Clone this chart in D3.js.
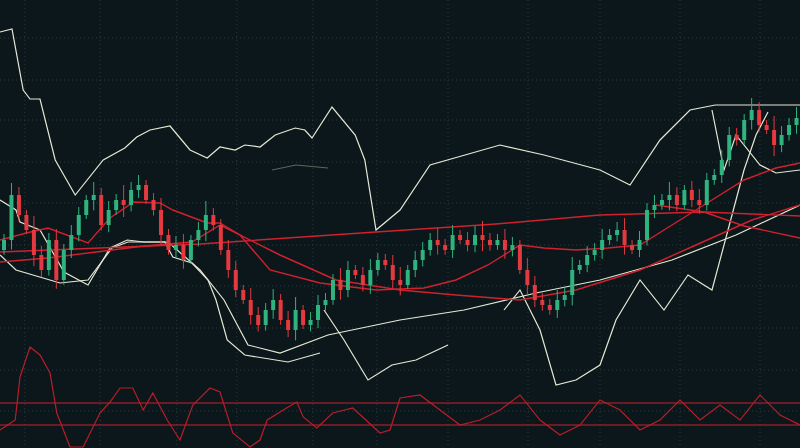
<!DOCTYPE html>
<html>
<head>
<meta charset="utf-8">
<script src="https://cdn.jsdelivr.net/npm/d3@7"></script>
<style>
  html, body { margin: 0; padding: 0; background: #0c171b; }
  svg { display: block; }
</style>
</head>
<body>
<div id="chart"></div>
<script>
const W = 800, H = 448;

// candle closes (opens = previous close)
const closes = [
  208,253,233,218,193,178,208,168,
  198,213,233,248,253,223,238,248,
  243,258,263,248,238,213,198,203,
  188,208,218,233,223,198,178,158,
  148,133,123,138,148,128,118,138,
  123,128,143,148,168,158,178,173,
  163,178,188,183,168,163,178,188,
  198,208,203,198,213,208,203,213,
  208,203,208,198,203,178,163,148,
  143,138,148,153,178,183,193,198,
  208,213,218,203,198,208,238,243,
  248,253,243,258,248,243,268,273,
  288,313,308,328,338,323,318,303,
  313,323,330
];
const wicks = [
  6,12,8,5,14,9,7,11,6,10,8,5,13,7,9,6,15,8,10,5,
  7,12,6,9,11,5,8,14,7,6,10,9,5,12,8,7,11,6,9,13,
  5,8,10,7,6,12,9,5,8,11,7,6,10,13,5,9,8,7,12,6,
  10,5,8,9,14,7,6,11,8,5,12,9,7,6,10,8,13,5,9,7,
  11,6,8,12,5,9,7,10,6,13,8,5,9,11,7,6,10,8,7
];

// bands and extra oscillating lines: [time, price]
const upperBand = [[0,416],[1.5,419],[2.9,358],[3.75,349],[5,349],[6.9,288],[9.4,253],[12.9,288],[15.6,300],[17.1,311],[18.75,318],[21.25,322],[23.75,298],[25.9,290],[27.5,301],[29.4,298],[30.6,303],[32.5,301],[34.4,313],[36.9,320],[38.1,318],[39,310],[41.5,341],[44.4,313],[45.6,288],[47,218],[50,238],[53.75,283],[62.5,303],[68,293],[75,278],[78.75,263],[82.5,308],[86.25,338],[89.4,343],[95,343],[100,343]];
const lowerBand = [[0,193],[2,178],[7.5,165],[11,168],[14,200],[16,206],[21,206],[25,178],[28,148],[31,103],[35,95],[41,113],[50,128],[58,138],[67,155],[75,168],[84,188],[92,213],[100,243]];
const whiteA = [[0,248],[2,238],[2.5,226],[5,218],[8,176],[11,163],[13.75,200],[15.9,208],[18,206],[20.6,206],[21.6,191],[24,185],[26,168],[27,148],[28.4,108],[30.6,93],[36,86],[40,95]];
const whiteB = [[40.5,138],[43,108],[46,68],[49,83],[52,88],[56,103]];
const whiteC = [[63,138],[65,158],[67.5,118],[69.5,63],[72,68],[75,83],[77,128],[80,168],[83,138],[86,173],[89,158],[91,218],[93,278],[94.5,313],[96,336]];
const whiteD = [[89,338],[90.5,278],[92,313],[95,283],[97,275],[100,278]];
const whiteE = [[34,278],[37,283],[41,280]];

const ma1 = [[0,208],[3.3,215],[6,220],[11,205],[13.75,230],[16.7,246],[20,245],[21.6,238],[25.9,225],[27.5,225],[30,213],[33.75,178],[40,165],[47,158],[53,160],[57,168],[61,183],[65,203],[68,200],[72,198],[76,200],[80,203],[83,218],[88,243],[93,268],[97,280],[100,285]];
const ma2 = [[0,196],[25,204],[47,216],[62,224],[75,233],[88,236],[100,232]];
const ma3 = [[27.5,223],[35,193],[42,168],[50,158],[57,153],[65,148],[72,158],[80,178],[87,203],[94,228],[100,243]];
const ma4 = [[0,186],[6,190],[12,196],[18,202],[24,206],[27.5,223]];
const ma5 = [[82,243],[88,236],[93,222],[100,210]];

// oscillator
const osc = [[0,18],[1.9,28],[2.5,71],[3.75,101],[5,93],[6.25,75],[7.1,35],[8.75,1],[10.4,1],[12.5,35],[13.75,46],[15,60],[16.6,60],[17.9,38],[19.1,55],[20.9,28],[22.5,8],[24.1,43],[26.25,60],[27.5,56],[29.1,15],[31.25,1],[32.5,8],[33.4,28],[35.4,38],[37.1,46],[37.9,31],[39.6,20],[41.6,35],[44.1,40],[47.5,15],[48.75,18],[50,50],[52.5,53],[55,38],[57.5,23],[60,28],[62.5,38],[65,53],[67.5,28],[70,13],[72.5,23],[75,48],[77.5,38],[80,18],[82.5,28],[85,48],[87.5,28],[90,43],[92.5,28],[95,53],[97.5,33],[100,23]];
const oscLevels = [45, 23];

const gridX = [3.1, 12.5, 22.1, 29.6, 39.1, 47.1, 56, 66, 75, 85, 95];
const gridY = [410, 368, 328, 286, 245, 203, 162, 120, 78, 37];

const svg = d3.select('#chart').append('svg')
  .attr('width', W).attr('height', H);

svg.append('rect').attr('width', W).attr('height', H).attr('fill', '#0c171b');

const x = d3.scaleLinear().domain([0, 100]).range([0, W]);
const y = d3.scaleLinear().domain([0, 448]).range([H, 0]);
const yo = d3.scaleLinear().domain([0, 108]).range([H, 340]);

// Grid
svg.append('g').selectAll('line').data(gridX).enter().append('line')
  .attr('x1', d => x(d)).attr('x2', d => x(d)).attr('y1', 0).attr('y2', H)
  .attr('stroke', '#2a3a3e').attr('stroke-dasharray', '1,3').attr('stroke-width', 1);
svg.append('g').selectAll('line').data(gridY).enter().append('line')
  .attr('y1', d => y(d)).attr('y2', d => y(d)).attr('x1', 0).attr('x2', W)
  .attr('stroke', '#2a3a3e').attr('stroke-dasharray', '1,3').attr('stroke-width', 1);

const line = d3.line().x(d => x(d[0])).y(d => y(d[1]));

// White lines
[upperBand, lowerBand, whiteA, whiteB, whiteC, whiteD].forEach(pts => {
  svg.append('path').datum(pts)
    .attr('fill', 'none').attr('stroke', '#e4e8d4').attr('stroke-width', 1.2)
    .attr('d', line);
});
svg.append('path').datum(whiteE)
  .attr('fill', 'none').attr('stroke', '#5a6a5c').attr('stroke-width', 1)
  .attr('d', line);

// Red moving averages
[ma1, ma2, ma3, ma4, ma5].forEach(pts => {
  svg.append('path').datum(pts)
    .attr('fill', 'none').attr('stroke', '#d0212e').attr('stroke-width', 1.4)
    .attr('d', line);
});

// Candles
const candles = closes.map((c, i) => {
  const o = i === 0 ? c - 10 : closes[i - 1];
  const w = wicks[i % wicks.length];
  return { i, o, c, hi: Math.max(o, c) + w, lo: Math.min(o, c) - w * 0.8 };
});
const cw = x(1) * 0.5;
const tx = i => x(i * 100 / closes.length + 0.5);
const col = d => d.c >= d.o ? '#2fb37f' : '#e23a3f';

const cg = svg.append('g');
cg.selectAll('.wick').data(candles).enter().append('line')
  .attr('x1', d => tx(d.i)).attr('x2', d => tx(d.i))
  .attr('y1', d => y(d.hi)).attr('y2', d => y(d.lo))
  .attr('stroke', col).attr('stroke-width', 1);
cg.selectAll('.body').data(candles).enter().append('rect')
  .attr('x', d => tx(d.i) - cw / 2)
  .attr('y', d => y(Math.max(d.o, d.c)))
  .attr('width', cw)
  .attr('height', d => Math.max(1.5, Math.abs(y(d.o) - y(d.c))))
  .attr('fill', col);

// Oscillator
svg.append('g').selectAll('line').data(oscLevels).enter().append('line')
  .attr('x1', 0).attr('x2', W).attr('y1', d => yo(d)).attr('y2', d => yo(d))
  .attr('stroke', '#c8202c').attr('stroke-width', 1.2);
svg.append('path').datum(osc)
  .attr('fill', 'none').attr('stroke', '#b81e2a').attr('stroke-width', 1.2)
  .attr('d', d3.line().x(d => x(d[0])).y(d => yo(d[1])));
</script>
</body>
</html>
